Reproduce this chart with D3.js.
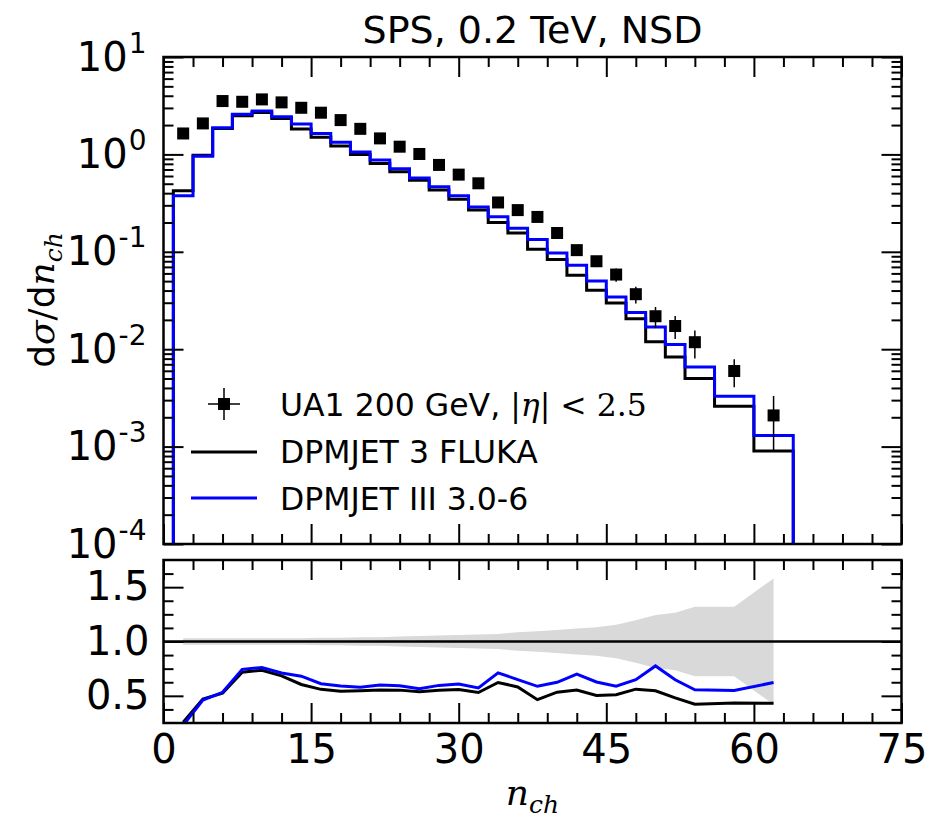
<!DOCTYPE html>
<html>
<head>
<meta charset="utf-8">
<script src="https://d3js.org/d3.v7.min.js"></script>
<style>
  body { margin: 0; background: white; }
  text { font-family: "DejaVu Sans", sans-serif; fill: black; }
  .math { font-family: "DejaVu Serif", serif; font-style: italic; }
  .tick line { stroke: black; stroke-width: 2px; }
</style>
</head>
<body>
<svg id="chart" width="930" height="821"></svg>
<script>
// model histogram bin edges (n_ch)
const binEdges = [1,3,5,7,9,11,13,15,17,19,21,23,25,27,29,31,33,35,37,39,41,43,45,47,49,51,53,56,60,64];
const flukaVals = [0.423,0.98,1.85,2.49,2.70,2.34,1.82,1.50,1.22,1.00,0.808,0.663,0.544,0.430,0.346,0.268,
  0.200,0.156,0.106,0.0833,0.0575,0.0403,0.0298,0.0206,0.0119,0.00832,0.00499,0.00259,0.0009];
const dpmjetVals = [0.376,0.96,1.88,2.58,2.79,2.43,2.05,1.64,1.33,1.06,0.874,0.711,0.571,0.465,0.377,0.289,
  0.2285,0.174,0.134,0.0974,0.0728,0.0502,0.0344,0.0238,0.0169,0.0112,0.00656,0.00328,0.0013];

// UA1 data
const ua1X = [2,4,6,8,10,12,14,16,18,20,22,24,26,28,30,32,34,36,38,40,42,44,46,48,50,52,54,58,62];
const ua1Y = [1.64,2.08,3.53,3.47,3.67,3.42,3.01,2.68,2.25,1.83,1.46,1.20,1.01,0.78,0.62,0.505,
  0.321,0.268,0.228,0.156,0.104,0.080,0.0584,0.0367,0.0218,0.0173,0.0118,0.00597,0.00209];
const ua1RelErr = [0.03,0.03,0.03,0.03,0.03,0.03,0.03,0.035,0.035,0.04,0.04,0.045,0.05,0.055,0.06,0.065,
  0.07,0.085,0.095,0.105,0.12,0.13,0.155,0.195,0.245,0.265,0.32,0.32,0.58];

const xTicks = [0,15,30,45,60,75];
const yTicks = [1e-4,1e-3,1e-2,1e-1,1,10];
const rTicks = [0.5,1.0,1.5];

const svg = d3.select("#chart");
const left = 163.5, right = 901.5;
const top1 = 57, bot1 = 544, top2 = 560, bot2 = 723;

const x = d3.scaleLinear().domain([0,75]).range([left,right]);
const y = d3.scaleLog().domain([1e-4,10]).range([bot1,top1]);
const yr = d3.scaleLinear().domain([0.25,1.75]).range([bot2,top2]);

svg.append("clipPath").attr("id","c1").append("rect")
  .attr("x",left).attr("y",top1).attr("width",right-left).attr("height",bot1-top1);
svg.append("clipPath").attr("id","c2").append("rect")
  .attr("x",left).attr("y",top2).attr("width",right-left).attr("height",bot2-top2);

// ---------- top panel ----------
const p1 = svg.append("g");

function stepPath(vals) {
  let d = "M" + x(binEdges[0]) + "," + (bot1+5);
  vals.forEach((v,i) => {
    d += "V" + y(v) + "H" + x(binEdges[i+1]);
  });
  d += "V" + (bot1+5);
  return d;
}

const g1 = p1.append("g").attr("clip-path","url(#c1)");
g1.append("path").attr("d", stepPath(flukaVals))
  .attr("fill","none").attr("stroke","black").attr("stroke-width",3);
g1.append("path").attr("d", stepPath(dpmjetVals))
  .attr("fill","none").attr("stroke","#0000ff").attr("stroke-width",3);

// error bars + markers
ua1X.forEach((xv,i) => {
  const v = ua1Y[i], e = ua1RelErr[i]*v;
  g1.append("line").attr("x1",x(xv)).attr("x2",x(xv))
    .attr("y1",y(v+e)).attr("y2",y(v-e)).attr("stroke","black").attr("stroke-width",1.5);
  g1.append("rect").attr("x",x(xv)-6).attr("y",y(v)-6).attr("width",12).attr("height",12).attr("fill","black");
});

// axes top panel
function minorLog() {
  const out = [];
  for (let p = -4; p < 1; p++) for (let k = 2; k < 10; k++) out.push(k*Math.pow(10,p));
  return out;
}
const xMinor = d3.range(0,76,3).filter(v => v % 15 !== 0);

p1.append("g").attr("transform","translate(0,"+bot1+")")
  .call(d3.axisBottom(x).tickValues(xTicks).tickSize(-20).tickFormat(""));
p1.append("g").attr("transform","translate(0,"+bot1+")")
  .call(d3.axisBottom(x).tickValues(xMinor).tickSize(-10).tickFormat(""));
p1.append("g").attr("transform","translate(0,"+top1+")")
  .call(d3.axisTop(x).tickValues(xTicks).tickSize(-20).tickFormat(""));
p1.append("g").attr("transform","translate(0,"+top1+")")
  .call(d3.axisTop(x).tickValues(xMinor).tickSize(-10).tickFormat(""));
const yl = p1.append("g").attr("transform","translate("+left+",0)")
  .call(d3.axisLeft(y).tickValues(yTicks).tickSize(-20).tickFormat(""));
p1.append("g").attr("transform","translate("+left+",0)")
  .call(d3.axisLeft(y).tickValues(minorLog()).tickSize(-10).tickFormat(""));
p1.append("g").attr("transform","translate("+right+",0)")
  .call(d3.axisRight(y).tickValues(yTicks).tickSize(-20).tickFormat(""));
p1.append("g").attr("transform","translate("+right+",0)")
  .call(d3.axisRight(y).tickValues(minorLog()).tickSize(-10).tickFormat(""));

yl.selectAll(".tick").each(function(d) {
  const t = d3.select(this).append("text").attr("x",-17).attr("y",13)
    .attr("text-anchor","end").attr("font-size",40).attr("fill","black");
  t.append("tspan").text("10");
  t.append("tspan").attr("dy",-18).attr("dx",1).attr("font-size",28).text(Math.round(Math.log10(d)));
});

// ---------- ratio panel ----------
const p2 = svg.append("g");
const g2 = p2.append("g").attr("clip-path","url(#c2)");

const band = ua1X.map((xv,i) => ({x: xv, e: ua1RelErr[i]}));
g2.append("path").datum(band)
  .attr("d", d3.area().x(d => x(d.x)).y0(d => yr(1-d.e)).y1(d => yr(1+d.e)))
  .attr("fill","#d9d9d9");
g2.append("line").attr("x1",left).attr("x2",right).attr("y1",yr(1)).attr("y2",yr(1))
  .attr("stroke","black").attr("stroke-width",2.5);

function binOf(xv) {
  for (let i = 0; i < binEdges.length-1; i++) if (xv >= binEdges[i] && xv < binEdges[i+1]) return i;
  return binEdges.length-2;
}
function ratios(vals) {
  return ua1X.map((xv,i) => ({x: xv, r: vals[binOf(xv)]/ua1Y[i]}));
}
const rline = d3.line().x(d => x(d.x)).y(d => yr(d.r));
g2.append("path").datum(ratios(flukaVals)).attr("d",rline)
  .attr("fill","none").attr("stroke","black").attr("stroke-width",3);
g2.append("path").datum(ratios(dpmjetVals)).attr("d",rline)
  .attr("fill","none").attr("stroke","#0000ff").attr("stroke-width",3);

const rMinor = d3.range(0.375,1.75,0.125).filter(v => Math.abs(v*2 - Math.round(v*2)) > 1e-6);
p2.append("g").attr("transform","translate(0,"+bot2+")")
  .call(d3.axisBottom(x).tickValues(xTicks).tickSize(-20).tickFormat(d3.format("d")))
  .selectAll("text").attr("font-size",40).attr("y",40).attr("dy",0);
p2.append("g").attr("transform","translate(0,"+bot2+")")
  .call(d3.axisBottom(x).tickValues(xMinor).tickSize(-10).tickFormat(""));
p2.append("g").attr("transform","translate(0,"+top2+")")
  .call(d3.axisTop(x).tickValues(xTicks).tickSize(-20).tickFormat(""));
p2.append("g").attr("transform","translate(0,"+top2+")")
  .call(d3.axisTop(x).tickValues(xMinor).tickSize(-10).tickFormat(""));
p2.append("g").attr("transform","translate("+left+",0)")
  .call(d3.axisLeft(yr).tickValues(rTicks).tickSize(-20).tickPadding(14).tickFormat(d3.format(".1f")))
  .selectAll("text").attr("font-size",40);
p2.append("g").attr("transform","translate("+left+",0)")
  .call(d3.axisLeft(yr).tickValues(rMinor).tickSize(-10).tickFormat(""));
p2.append("g").attr("transform","translate("+right+",0)")
  .call(d3.axisRight(yr).tickValues(rTicks).tickSize(-20).tickFormat(""));
p2.append("g").attr("transform","translate("+right+",0)")
  .call(d3.axisRight(yr).tickValues(rMinor).tickSize(-10).tickFormat(""));

svg.selectAll(".domain").remove();

// spines
[[top1,bot1],[top2,bot2]].forEach(([a,b]) => {
  svg.append("rect").attr("x",left).attr("y",a).attr("width",right-left).attr("height",b-a)
    .attr("fill","none").attr("stroke","black").attr("stroke-width",2.5);
});

// ---------- text ----------
svg.append("text").attr("x",(left+right)/2).attr("y",43).attr("text-anchor","middle")
  .attr("font-size",38).text("SPS, 0.2 TeV, NSD");

const xl = svg.append("text").attr("x",(left+right)/2).attr("y",805).attr("text-anchor","middle")
  .attr("font-size",36);
xl.append("tspan").attr("class","math").text("n");
xl.append("tspan").attr("class","math").attr("font-size",25).attr("dy",8).text("ch");

const ylab = svg.append("text").attr("transform","translate(54,300) rotate(-90)")
  .attr("text-anchor","middle").attr("font-size",36);
ylab.append("tspan").text("d");
ylab.append("tspan").attr("class","math").text("σ");
ylab.append("tspan").attr("font-family","DejaVu Serif").text("/");
ylab.append("tspan").text("d");
ylab.append("tspan").attr("class","math").text("n");
ylab.append("tspan").attr("class","math").attr("font-size",25).attr("dy",8).text("ch");

// legend
const lg = svg.append("g");
lg.append("line").attr("x1",208).attr("x2",240).attr("y1",404).attr("y2",404).attr("stroke","black").attr("stroke-width",1.5);
lg.append("line").attr("x1",224).attr("x2",224).attr("y1",388).attr("y2",420).attr("stroke","black").attr("stroke-width",1.5);
lg.append("rect").attr("x",218).attr("y",398).attr("width",12).attr("height",12).attr("fill","black");
const t1 = lg.append("text").attr("x",280).attr("y",416).attr("font-size",31.5);
t1.append("tspan").text("UA1 200 GeV, ");
t1.append("tspan").attr("font-family","DejaVu Serif").text("|");
t1.append("tspan").attr("class","math").text("η");
t1.append("tspan").attr("font-family","DejaVu Serif").text("| < 2.5");
lg.append("line").attr("x1",191).attr("x2",257).attr("y1",452).attr("y2",452).attr("stroke","black").attr("stroke-width",3);
lg.append("text").attr("x",280).attr("y",463).attr("font-size",31.5).text("DPMJET 3 FLUKA");
lg.append("line").attr("x1",191).attr("x2",257).attr("y1",498).attr("y2",498).attr("stroke","#0000ff").attr("stroke-width",3);
lg.append("text").attr("x",280).attr("y",510).attr("font-size",31.5).text("DPMJET III 3.0-6");
</script>
</body>
</html>
